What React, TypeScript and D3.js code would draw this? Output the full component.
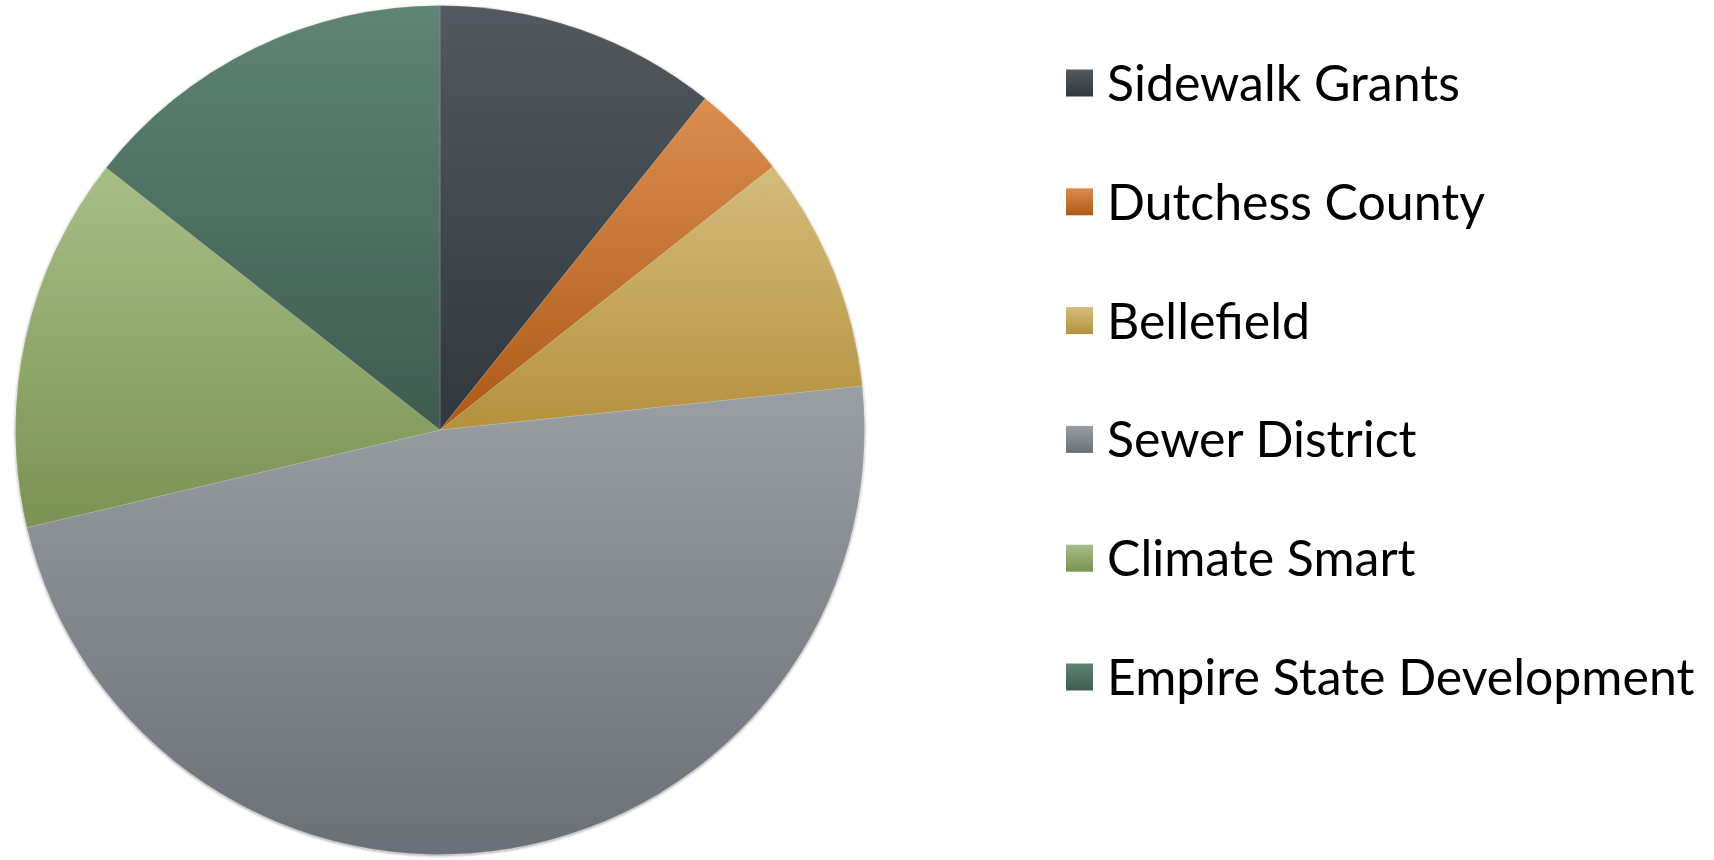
import React from "react";
import * as d3 from "d3";

// Chart data
const categories = [
  "Sidewalk Grants",
  "Dutchess County",
  "Bellefield",
  "Sewer District",
  "Climate Smart",
  "Empire State Development",
];
const shares = [10.74, 3.61, 9.0, 47.96, 14.29, 14.4];
const topColours = ["#52595f", "#db8d4f", "#d5bc7c", "#9a9ea5", "#a7be87", "#5f8474"];
const bottomColours = ["#30373d", "#ad5916", "#b4913d", "#6a7077", "#7a9252", "#3e5b4f"];

// Dimensions
const width = 1714;
const height = 860;
const cx = 440;
const cy = 430;
const radius = 424.5;
const legendX = 1066;
const legendY0 = 83;
const legendStep = 118.8;
const swatch = 27;

const App = () => {
  const pie = d3
    .pie<number>()
    .sort(null)
    .value((d) => d);
  const arcs = pie(shares);
  const arc = d3.arc<d3.PieArcDatum<number>>().innerRadius(0).outerRadius(radius);

  return (
    <div style={{ position: "absolute", left: 0, top: 0 }}>
      <svg width={width} height={height} style={{ display: "block" }}>
        <defs>
          {categories.map((c, i) => (
            <linearGradient key={c} id={`grad${i}`} x1="0" y1="0" x2="0" y2="1">
              <stop offset="0%" stopColor={topColours[i]} />
              <stop offset="100%" stopColor={bottomColours[i]} />
            </linearGradient>
          ))}
          <filter id="shadow" x="-10%" y="-10%" width="120%" height="120%">
            <feGaussianBlur in="SourceAlpha" stdDeviation="1.6" />
            <feOffset dx="0" dy="1" result="blur" />
            <feComponentTransfer>
              <feFuncA type="linear" slope="0.45" />
            </feComponentTransfer>
            <feMerge>
              <feMergeNode />
              <feMergeNode in="SourceGraphic" />
            </feMerge>
          </filter>
        </defs>

        <g transform={`translate(${cx}, ${cy})`} filter="url(#shadow)">
          {arcs.map((a, i) => (
            <path
              key={categories[i]}
              d={arc(a) || ""}
              fill={`url(#grad${i})`}
              stroke="rgba(255,255,255,0.25)"
              strokeWidth={0.6}
            />
          ))}
        </g>

        <g>
          {categories.map((c, i) => {
            const y = legendY0 + i * legendStep;
            return (
              <g key={c} transform={`translate(${legendX}, ${y})`}>
                <rect x={0} y={-swatch / 2} width={swatch} height={swatch} fill={`url(#grad${i})`} />
                <text
                  x={41}
                  y={0}
                  dy="0.36em"
                  fontFamily="Lato, 'Open Sans', sans-serif"
                  fontSize={50}
                  fill="#000"
                >
                  {c}
                </text>
              </g>
            );
          })}
        </g>
      </svg>
    </div>
  );
};

export default App;
